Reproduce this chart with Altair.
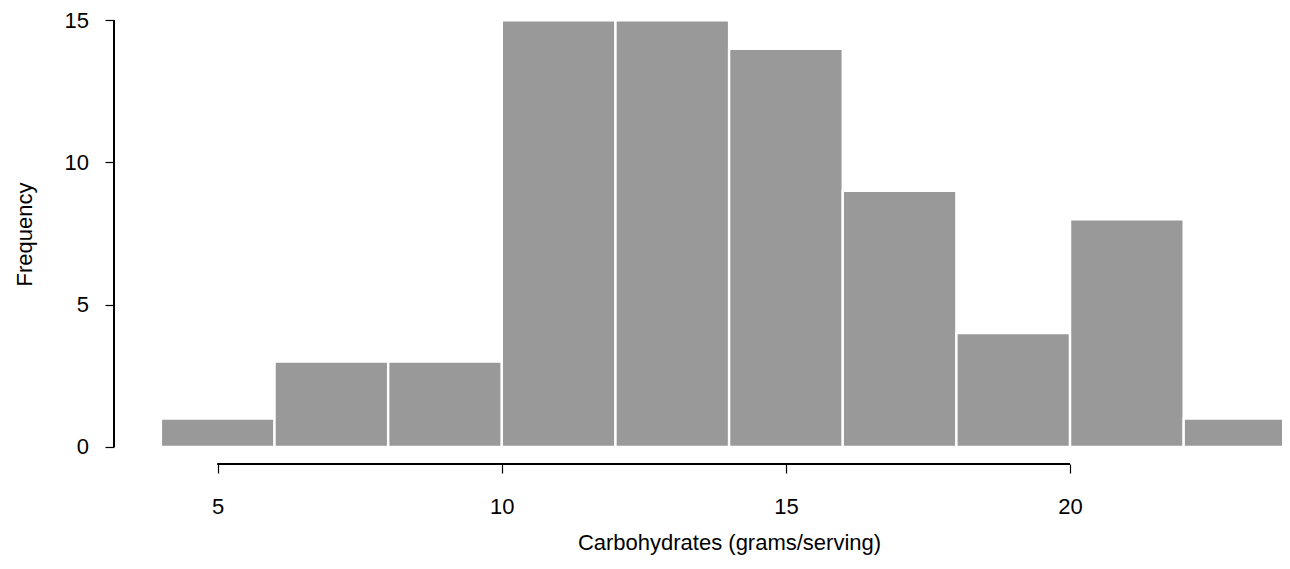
import altair as alt
import pandas as pd

bin_start = [4, 6, 8, 10, 12, 14, 16, 18, 20, 22]
bin_end = [6, 8, 10, 12, 14, 16, 18, 20, 22, 24]
counts = [1, 3, 3, 15, 15, 14, 9, 4, 8, 1]
x_ticks = [5, 10, 15, 20]
y_ticks = [0, 5, 10, 15]

df = pd.DataFrame({"start": bin_start, "end": bin_end, "count": counts})

FONT = "Liberation Sans"
FS = 22
W, H = 1168, 456

xscale = alt.Scale(domain=[3.175, 23.73], nice=False, zero=False)
yscale = alt.Scale(domain=[-0.6, 15.43], nice=False, zero=False)

bars = alt.Chart(df).mark_rect(
    color="#999999", stroke="white", strokeWidth=2.4, clip=True
).encode(
    x=alt.X("start:Q", scale=xscale, axis=alt.Axis(
        values=x_ticks, format="d", domain=False, grid=False, tickSize=9, tickWidth=1.2,
        tickColor="black", labelFont=FONT, labelFontSize=FS, labelColor="black",
        labelBaseline="alphabetic", labelPadding=40, labelAlign="center",
        title="Carbohydrates (grams/serving)", titleFont=FONT, titleFontSize=FS,
        titleFontWeight="normal", titleColor="black", titleBaseline="alphabetic",
        titleAlign="center", titleX=615, titleY=85)),
    x2="end:Q",
    y=alt.Y("count:Q", scale=yscale, axis=alt.Axis(
        values=y_ticks, format="d", domain=False, grid=False, tickSize=9, tickWidth=1.2,
        tickColor="black", labelFont=FONT, labelFontSize=FS, labelColor="black",
        labelBaseline="middle", labelPadding=16.5, labelAlign="right",
        title="Frequency", titleFont=FONT, titleFontSize=FS,
        titleFontWeight="normal", titleColor="black", titleBaseline="alphabetic",
        titleAlign="center", titleAngle=270, titleX=-82.5, titleY=226)),
    y2=alt.Y2(datum=0),
)

yaxis_line = alt.Chart(df).mark_rule(color="black", strokeWidth=1.2).encode(
    x=alt.value(0),
    y=alt.Y(datum=y_ticks[0], scale=yscale),
    y2=alt.Y2(datum=y_ticks[-1]),
)

xaxis_line = alt.Chart(df).mark_rule(color="black", strokeWidth=1.2).encode(
    y=alt.value(H),
    x=alt.X(datum=x_ticks[0], scale=xscale),
    x2=alt.X2(datum=x_ticks[-1]),
)

chart = alt.layer(bars, yaxis_line, xaxis_line).properties(
    width=W, height=H,
    autosize=alt.AutoSizeParams(type="none"),
    padding={"left": 106, "top": 0, "right": 0, "bottom": 92},
).configure_view(stroke=None)

chart.save("out.html", embed_options={"renderer": "svg", "actions": False})
